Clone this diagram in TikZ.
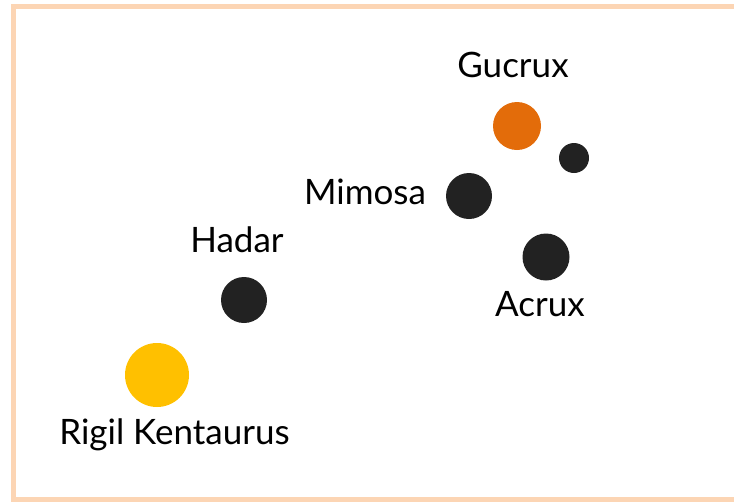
\documentclass[tikz,border=0pt]{standalone}
\usepackage{fontspec}
\setmainfont{Lato}
\usetikzlibrary{positioning}
\definecolor{framepeach}{RGB}{252,213,180}
\definecolor{gucruxorange}{RGB}{227,108,10}
\definecolor{rigilyellow}{RGB}{255,192,0}
\definecolor{stardark}{RGB}{34,34,34}

\begin{document}
\begin{tikzpicture}[x=1pt,y=-1pt,
  starbody/.style={circle,inner sep=0pt,fill=stardark},
  starname/.style={anchor=base,inner sep=0pt,font=\fontsize{35}{40}\selectfont}]
\useasboundingbox (0,0) rectangle (734,501);
\clip (0,0) rectangle (734,501);
%frame
\draw[framepeach,line width=5pt] (13.5,6.5) rectangle (740,499.5);
%stars
\node[starbody,minimum size=48pt,fill=gucruxorange] (gucrux) at (517,126) {};
\node[starbody,minimum size=30pt] (small) at (574,158) {};
\node[starbody,minimum size=46pt] (mimosa) at (469,196) {};
\node[starbody,minimum size=47pt] (acrux) at (546,257) {};
\node[starbody,minimum size=46pt] (hadar) at (244,300) {};
\node[starbody,minimum size=64pt,fill=rigilyellow] (rigil) at (157,375) {};
%names
\node[starname] (gucruxname) at (513,77) {Gucrux};
\node[starname] (mimosaname) at (365,204) {Mimosa};
\node[starname] (hadarname) at (237,252) {Hadar};
\node[starname] (acruxname) at (540,316) {Acrux};
\node[starname] (rigilname) at (174.5,444) {Rigil Kentaurus};
\end{tikzpicture}
\end{document}
